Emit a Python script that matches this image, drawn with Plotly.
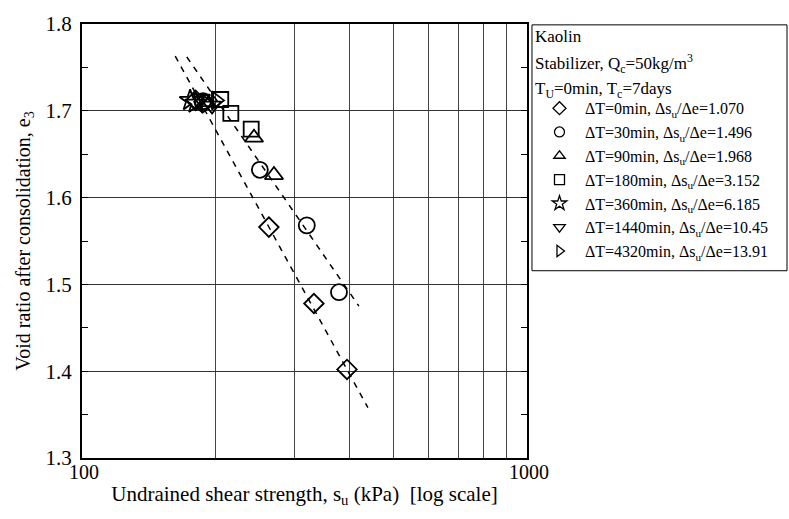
import plotly.graph_objects as go

# Undrained shear strength s_u (kPa) and void ratio e for each curing delay ΔT
su_dt0 = [180, 263, 332, 394]
e_dt0 = [1.712, 1.566, 1.478, 1.402]

su_dt30 = [187, 251, 320, 378]
e_dt30 = [1.711, 1.632, 1.568, 1.491]

su_dt90 = [190, 243.5, 270]
e_dt90 = [1.710, 1.669, 1.626]

su_dt180 = [205, 216, 240]
e_dt180 = [1.713, 1.697, 1.679]

su_dt360 = [175, 180]
e_dt360 = [1.712, 1.709]

su_dt1440 = [185, 196]
e_dt1440 = [1.714, 1.706]

su_dt4320 = [190, 200]
e_dt4320 = [1.708, 1.712]

# Dashed trend lines (end points)
fit_a_su = [162, 439]
fit_a_e = [1.763, 1.358]
fit_b_su = [172, 419]
fit_b_e = [1.762, 1.475]

header_lines = [
    "Kaolin",
    "Stabilizer, Q<sub>c</sub>=50kg/m<sup>3</sup>",
    "T<sub>U</sub>=0min, T<sub>c</sub>=7days",
]

legend_names = [
    "ΔT=0min, Δs<sub>u</sub>/Δe=1.070",
    "ΔT=30min, Δs<sub>u</sub>/Δe=1.496",
    "ΔT=90min, Δs<sub>u</sub>/Δe=1.968",
    "ΔT=180min, Δs<sub>u</sub>/Δe=3.152",
    "ΔT=360min, Δs<sub>u</sub>/Δe=6.185",
    "ΔT=1440min, Δs<sub>u</sub>/Δe=10.45",
    "ΔT=4320min, Δs<sub>u</sub>/Δe=13.91",
]

FONT = "Liberation Serif"

fig = go.Figure()

for xs, ys in [(fit_a_su, fit_a_e), (fit_b_su, fit_b_e)]:
    fig.add_trace(go.Scatter(
        x=xs, y=ys, mode="lines", showlegend=False,
        line=dict(color="black", width=1.5, dash="6px,6px"),
        hoverinfo="skip",
    ))

series = [
    (su_dt0, e_dt0, "diamond-open", 15, 10),
    (su_dt30, e_dt30, "circle-open", 16, 10),
    (su_dt90, e_dt90, "triangle-up-open", 16, 10),
    (su_dt180, e_dt180, "square-open", 15, 10),
    (su_dt360, e_dt360, "star-open", 16, 11),
    (su_dt1440, e_dt1440, "triangle-down-open", 16, 10),
    (su_dt4320, e_dt4320, "triangle-right-open", 16, 10),
]

for i, ((xs, ys, sym, sz, legsz), name) in enumerate(zip(series, legend_names)):
    fig.add_trace(go.Scatter(
        x=xs, y=ys, mode="markers", showlegend=False,
        marker=dict(symbol=sym, size=sz, color="black",
                    line=dict(color="black", width=1.8)),
    ))
    # smaller symbol for the key
    fig.add_trace(go.Scatter(
        x=[None], y=[None], mode="markers", name=name,
        legendgroup=f"g{i}",
        marker=dict(symbol=sym, size=legsz, color="black",
                    line=dict(color="black", width=1.3)),
    ))

# key frame and header text
fig.add_shape(type="rect", xref="paper", yref="paper",
              x0=1.0112, x1=1.5843, y0=0.4315, y1=0.998,
              line=dict(color="black", width=1), fillcolor="white", layer="below")

for txt, yp in zip(header_lines, [0.972, 0.908, 0.848]):
    fig.add_annotation(text=txt, xref="paper", yref="paper", x=1.0133, y=yp,
                       xanchor="left", yanchor="middle", showarrow=False,
                       font=dict(family=FONT, size=17, color="black"))

fig.update_layout(
    width=789, height=519,
    margin=dict(l=82, r=262, t=20, b=61),
    paper_bgcolor="white", plot_bgcolor="white",
    font=dict(family=FONT, size=16, color="black"),
    legend=dict(
        x=1.0157, y=0.845, xanchor="left", yanchor="top",
        borderwidth=0, bgcolor="rgba(0,0,0,0)",
        itemsizing="trace", itemwidth=41,
        traceorder="grouped", tracegroupgap=0,
        font=dict(family=FONT, size=16),
    ),
)

fig.update_xaxes(
    type="log", range=[2, 3],
    tickvals=[100, 1000], ticktext=["100", "1000"],
    showgrid=False, ticks="", ticklabelstandoff=-5, ticklabelshift=2,
    showline=True, linecolor="black", linewidth=2, mirror=True,
    tickfont=dict(family=FONT, size=20),
    title=dict(text="Undrained shear strength, s<sub>u</sub> (kPa)  [log scale]",
               font=dict(family=FONT, size=21), standoff=4),
    minor=dict(tickvals=[200, 300, 400, 500, 600, 700, 800, 900],
               showgrid=True, gridcolor="#444", gridwidth=1, ticks=""),
    zeroline=False,
)

fig.update_yaxes(
    range=[1.3, 1.8], dtick=0.1, tickformat=".1f",
    showgrid=True, gridcolor="#333", gridwidth=1,
    ticks="inside", ticklen=6, tickcolor="black", ticklabelstandoff=4,
    showline=True, linecolor="black", linewidth=2, mirror="ticks",
    tickfont=dict(family=FONT, size=21),
    title=dict(text="Void ratio after consolidation, e<sub>3</sub>",
               font=dict(family=FONT, size=20), standoff=10),
    minor=dict(dtick=0.05, ticks="inside", ticklen=6, tickcolor="black",
               showgrid=False),
    zeroline=False,
)

fig.write_html("out.html")
